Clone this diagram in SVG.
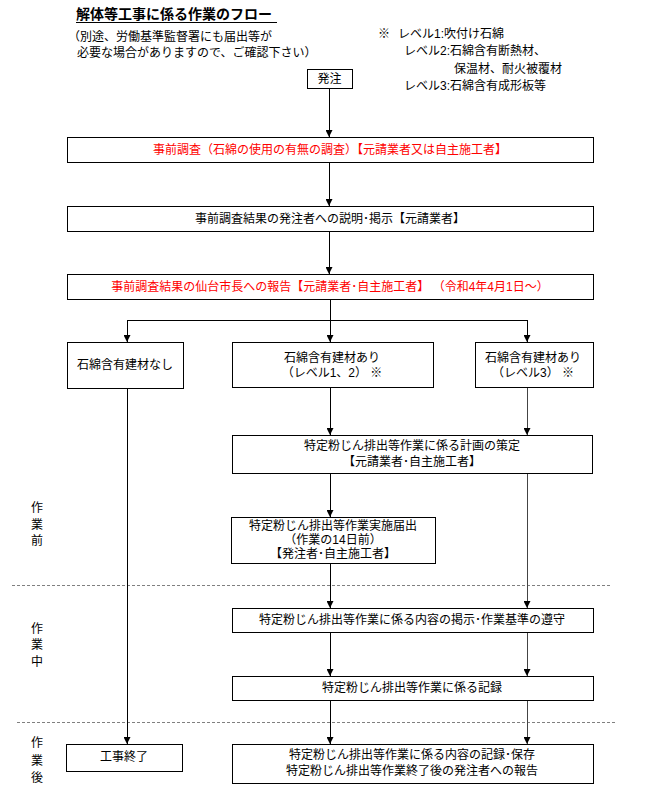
<svg xmlns="http://www.w3.org/2000/svg" width="659" height="800" viewBox="0 0 659 800">
<defs>
<style>
text{font-family:"Liberation Sans","Noto Sans CJK JP",sans-serif;font-size:12px;fill:#000}
.c{text-anchor:middle}
.r{fill:#ff0000}
.t{font-size:14px;font-weight:bold}
.box{fill:#fff;stroke:#000;stroke-width:1;shape-rendering:crispEdges}
.ln{stroke:#000;stroke-width:1;fill:none;shape-rendering:crispEdges}
.lg{stroke:#444;stroke-width:1;fill:none;shape-rendering:crispEdges}
.dash{stroke:#808080;stroke-width:1;stroke-dasharray:3 2;fill:none;shape-rendering:crispEdges}
</style>
<marker id="ah" viewBox="0 0 8 8" refX="8" refY="4" markerWidth="7" markerHeight="7" markerUnits="userSpaceOnUse" orient="auto">
<path d="M0,0 L8,4 L0,8 z" fill="#000"/>
</marker>
</defs>
<rect width="659" height="800" fill="#fff"/>

<g id="header">
<text x="76" y="19" class="t">解体等工事に係る作業のフロー</text>
<line x1="76" y1="22.5" x2="277" y2="22.5" stroke="#000" stroke-width="1"/>
<text x="68" y="41">（別途、労働基準監督署にも届出等が</text>
<text x="77" y="57">必要な場合がありますので、ご確認下さい）</text>
</g>

<g id="note">
<text x="378" y="38">※</text>
<text x="398" y="38">レベル1:吹付け石綿</text>
<text x="404" y="55">レベル2:石綿含有断熱材、</text>
<text x="454" y="73">保温材、耐火被覆材</text>
<text x="404" y="90">レベル3:石綿含有成形板等</text>
</g>

<g id="phases">
<text x="37" y="512" class="c">作</text>
<text x="37" y="529" class="c">業</text>
<text x="37" y="545" class="c">前</text>
<text x="37" y="633" class="c">作</text>
<text x="37" y="649" class="c">業</text>
<text x="37" y="666" class="c">中</text>
<text x="37" y="747" class="c">作</text>
<text x="37" y="765" class="c">業</text>
<text x="37" y="782" class="c">後</text>
<line x1="12" y1="585" x2="610" y2="585" class="dash"/>
<line x1="17" y1="722" x2="616" y2="722" class="dash"/>
</g>

<g id="connectors">
<line x1="329" y1="88" x2="329" y2="137" class="ln" marker-end="url(#ah)"/>
<line x1="329" y1="162" x2="329" y2="206" class="ln" marker-end="url(#ah)"/>
<line x1="329" y1="231" x2="329" y2="274" class="ln" marker-end="url(#ah)"/>
<line x1="330" y1="299" x2="330" y2="342" class="ln" marker-end="url(#ah)"/>
<polyline points="127,342 127,320 527,320 527,342" class="ln"/>
<line x1="127" y1="330" x2="127" y2="342" class="ln" marker-end="url(#ah)"/>
<line x1="527" y1="330" x2="527" y2="342" class="ln" marker-end="url(#ah)"/>
<line x1="127" y1="388" x2="127" y2="744" class="ln" marker-end="url(#ah)"/>
<line x1="330" y1="387" x2="330" y2="435" class="ln" marker-end="url(#ah)"/>
<line x1="527" y1="387" x2="527" y2="435" class="lg" marker-end="url(#ah)"/>
<line x1="330" y1="473" x2="330" y2="517" class="ln" marker-end="url(#ah)"/>
<line x1="527" y1="473" x2="527" y2="608" class="lg" marker-end="url(#ah)"/>
<line x1="330" y1="563" x2="330" y2="608" class="ln" marker-end="url(#ah)"/>
<line x1="330" y1="632" x2="330" y2="676" class="ln" marker-end="url(#ah)"/>
<line x1="527" y1="632" x2="527" y2="676" class="lg" marker-end="url(#ah)"/>
<line x1="330" y1="700" x2="330" y2="744" class="ln" marker-end="url(#ah)"/>
<line x1="527" y1="700" x2="527" y2="744" class="lg" marker-end="url(#ah)"/>
</g>

<g id="order">
<rect x="307" y="69" width="45" height="19" class="box"/>
<text x="329.5" y="83" class="c">発注</text>
</g>

<g id="survey">
<rect x="67" y="137" width="526" height="25" class="box"/>
<text x="330" y="154" class="c r">事前調査（石綿の使用の有無の調査）【元請業者又は自主施工者】</text>
</g>

<g id="explain">
<rect x="67" y="206" width="526" height="25" class="box"/>
<text x="330" y="223" class="c">事前調査結果の発注者への説明･掲示【元請業者】</text>
</g>

<g id="report">
<rect x="67" y="274" width="526" height="25" class="box"/>
<text x="330" y="291" class="c r">事前調査結果の仙台市長への報告【元請業者･自主施工者】 （令和4年4月1日～）</text>
</g>

<g id="none">
<rect x="67" y="342" width="116" height="46" class="box"/>
<text x="125" y="369" class="c">石綿含有建材なし</text>
</g>

<g id="level12">
<rect x="232" y="342" width="201" height="45" class="box"/>
<text x="332" y="362" class="c">石綿含有建材あり</text>
<text x="332" y="377" class="c">（レベル1、2） ※</text>
</g>

<g id="level3">
<rect x="475" y="342" width="118" height="45" class="box"/>
<text x="533" y="362" class="c">石綿含有建材あり</text>
<text x="533" y="377" class="c">（レベル3） ※</text>
</g>

<g id="plan">
<rect x="232" y="435" width="360" height="38" class="box"/>
<text x="412" y="450" class="c">特定粉じん排出等作業に係る計画の策定</text>
<text x="412" y="466" class="c">【元請業者･自主施工者】</text>
</g>

<g id="notify">
<rect x="231" y="517" width="204" height="46" class="box"/>
<text x="333" y="530" class="c">特定粉じん排出等作業実施届出</text>
<text x="333" y="544" class="c">（作業の14日前）</text>
<text x="333" y="558" class="c">【発注者･自主施工者】</text>
</g>

<g id="display">
<rect x="232" y="608" width="361" height="24" class="box"/>
<text x="412" y="624" class="c">特定粉じん排出等作業に係る内容の掲示･作業基準の遵守</text>
</g>

<g id="record">
<rect x="232" y="676" width="361" height="24" class="box"/>
<text x="412" y="692" class="c">特定粉じん排出等作業に係る記録</text>
</g>

<g id="end">
<rect x="66" y="744" width="116" height="27" class="box"/>
<text x="124" y="761" class="c">工事終了</text>
</g>

<g id="final">
<rect x="232" y="744" width="361" height="39" class="box"/>
<text x="412" y="759" class="c">特定粉じん排出等作業に係る内容の記録･保存</text>
<text x="412" y="775" class="c">特定粉じん排出等作業終了後の発注者への報告</text>
</g>
</svg>
